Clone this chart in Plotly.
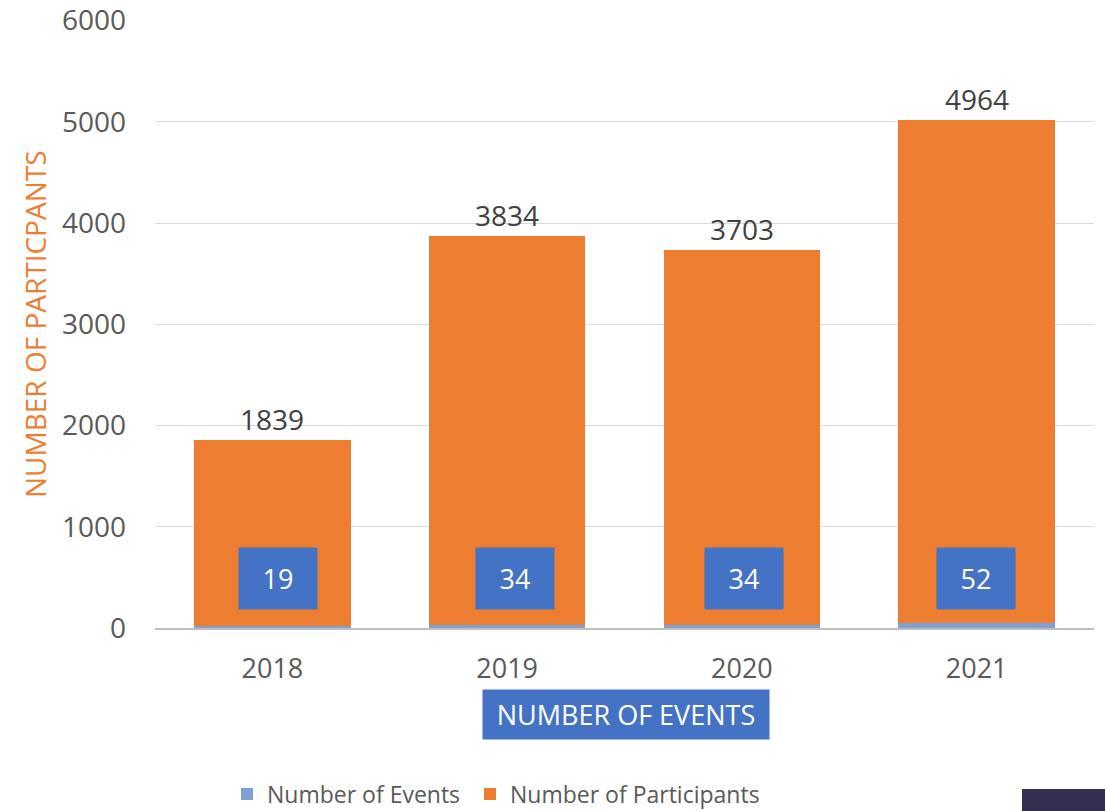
import plotly.graph_objects as go

years = ["2018", "2019", "2020", "2021"]
events = [19, 34, 34, 52]
participants = [1839, 3834, 3703, 4964]
y_ticks = [0, 1000, 2000, 3000, 4000, 5000, 6000]

# horizontal nudges (px) of the event label boxes, as placed in the original
label_dx = [6, 7.5, 2.5, -0.5]

ORANGE = "#ED7D31"
BLUE = "#4472C4"
LIGHTBLUE = "#7F9FD7"
FONT = "Open Sans"

W, H = 1105, 811
L, R, T, B = 155, 11, 20, 183
pw, ph = W - L - R, H - T - B

def px_x(px):
    return (px - L) / pw

def px_y(py):
    return (H - B - py) / ph

xpos = list(range(len(years)))

fig = go.Figure()
fig.add_trace(go.Bar(x=xpos, y=events, name="Number of Events", legend="legend",
                     marker=dict(color=LIGHTBLUE, line=dict(width=0))))
fig.add_trace(go.Bar(x=xpos, y=participants, name="Number of Participants",
                     legend="legend2",
                     marker=dict(color=ORANGE, line=dict(width=0))))

annotations = []
for xi, e, p, dx in zip(xpos, events, participants, label_dx):
    annotations.append(dict(x=xi, y=e + p, text=str(p), showarrow=False,
                            xanchor="center", yanchor="bottom", yshift=0,
                            font=dict(family=FONT, size=28, color="#404040")))
    annotations.append(dict(x=xi, y=490, text=str(e), showarrow=False,
                            xanchor="center", yanchor="middle", width=76, height=59,
                            xshift=dx, bgcolor=BLUE,
                            font=dict(family=FONT, size=27, color="white")))

annotations.append(dict(xref="paper", yref="paper", x=px_x(626), y=px_y(714),
                        text="NUMBER OF EVENTS", showarrow=False,
                        width=284, height=47, bgcolor=BLUE,
                        xanchor="center", yanchor="middle",
                        font=dict(family=FONT, size=27, color="white")))
annotations.append(dict(xref="paper", yref="paper", x=px_x(35), y=px_y(324),
                        text="NUMBER OF PARTICPANTS", showarrow=False,
                        textangle=-90, xanchor="center", yanchor="middle",
                        font=dict(family=FONT, size=28, color=ORANGE)))

leg_common = dict(orientation="h", xref="container", yref="container",
                  xanchor="left", y=(H - 794) / H, yanchor="middle",
                  font=dict(family=FONT, size=23, color="#595959"),
                  itemclick=False, bgcolor="rgba(0,0,0,0)")

fig.update_layout(
    barmode="stack",
    bargap=0.333,
    width=W, height=H,
    margin=dict(l=L, r=R, t=T, b=B, autoexpand=False),
    paper_bgcolor="white", plot_bgcolor="white",
    font=dict(family=FONT, color="#595959"),
    annotations=annotations,
    showlegend=True,
    legend=dict(x=(240 - 13) / W, **leg_common),
    legend2=dict(x=(483 - 13) / W, **leg_common),
    shapes=[dict(type="rect", xref="paper", yref="paper",
                 x0=px_x(1022), x1=px_x(1105), y0=px_y(789), y1=px_y(811),
                 fillcolor="#332F50", line=dict(width=0), layer="above")],
)
fig.update_xaxes(range=[-0.5, len(years) - 0.5], tickvals=xpos, ticktext=years,
                 showgrid=False, showline=True, zeroline=False,
                 linecolor="#BFBFBF", linewidth=2,
                 tickfont=dict(family=FONT, size=27, color="#595959"),
                 ticks="", ticklabelstandoff=16)
fig.update_yaxes(range=[0, 6005], tickvals=y_ticks, showgrid=True,
                 gridcolor="#D9D9D9", gridwidth=1, zeroline=False,
                 showline=False, ticks="",
                 tickfont=dict(family=FONT, size=28, color="#595959"),
                 ticklabelstandoff=28)

fig.write_html("out.html", config={"displayModeBar": False},
               post_script="document.body.style.margin='0';document.body.style.overflow='hidden';")
